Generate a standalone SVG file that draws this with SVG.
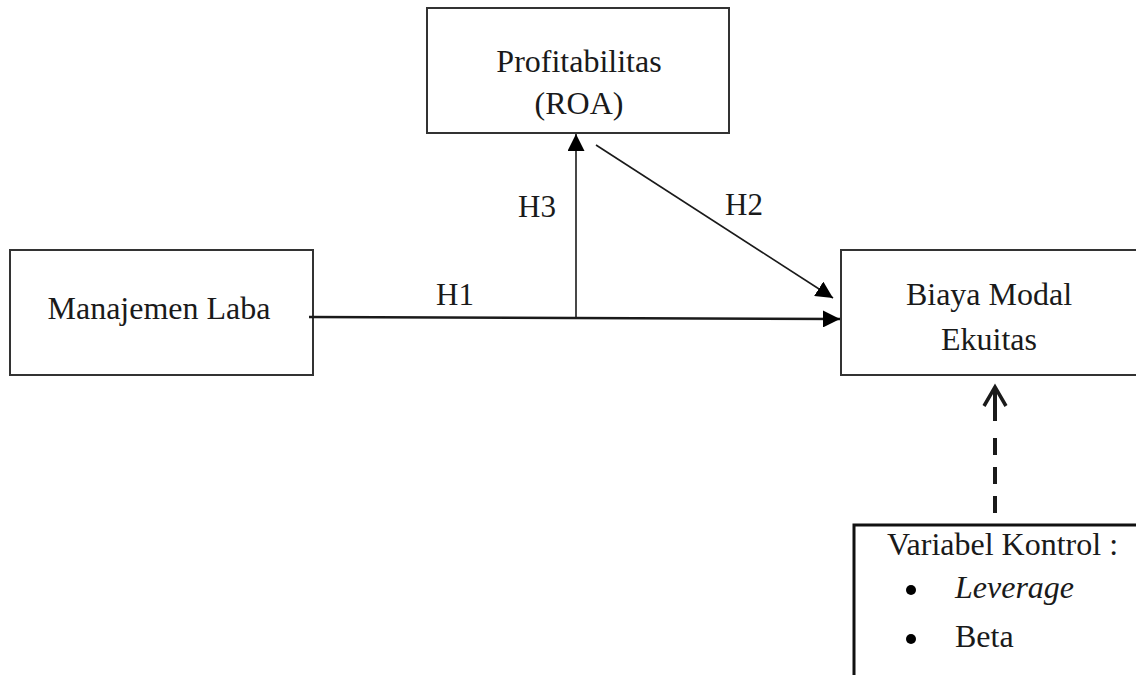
<svg xmlns="http://www.w3.org/2000/svg" width="1136" height="675" viewBox="0 0 1136 675">
<defs>
<style>
.box{fill:#fff;stroke:#333;stroke-width:2}
.t{font-family:"Liberation Serif","Times New Roman",serif;font-size:32px;fill:#1a1a1a}
.lbl{font-family:"Liberation Serif","Times New Roman",serif;font-size:31px;fill:#1a1a1a}
.ln{stroke:#1a1a1a;fill:none}
</style>
<marker id="tri" viewBox="0 0 10 10" refX="10" refY="5" markerWidth="17" markerHeight="17" markerUnits="userSpaceOnUse" orient="auto">
<path d="M0,0 L10,5 L0,10 Z" fill="#000"/>
</marker>
</defs>
<rect width="1136" height="675" fill="#fff"/>
<g id="node-profitabilitas">
<rect class="box" x="427" y="8" width="302" height="125"/>
<text class="t" x="579" y="72" text-anchor="middle">Profitabilitas</text>
<text class="t" x="579" y="114" text-anchor="middle">(ROA)</text>
</g>
<g id="node-manajemen-laba">
<rect class="box" x="10" y="250" width="303" height="125"/>
<text class="t" x="159" y="319" text-anchor="middle">Manajemen Laba</text>
</g>
<g id="node-biaya-modal">
<rect class="box" x="841" y="250" width="298" height="125"/>
<text class="t" x="989" y="305" text-anchor="middle">Biaya Modal</text>
<text class="t" x="989" y="350" text-anchor="middle">Ekuitas</text>
</g>
<g id="node-variabel-kontrol">
<rect x="854" y="525" width="290" height="160" fill="#fff" stroke="#111" stroke-width="3"/>
<text class="t" x="887" y="555">Variabel Kontrol :</text>
<circle cx="911" cy="590" r="5" fill="#000"/>
<text class="t" x="955" y="598" font-size="35" font-style="italic">Leverage</text>
<circle cx="911" cy="639" r="5" fill="#000"/>
<text class="t" x="955" y="647" font-size="35">Beta</text>
</g>
<g id="connectors">
<line class="ln" x1="309" y1="317" x2="840" y2="319" stroke-width="2.5" marker-end="url(#tri)"/>
<line class="ln" x1="576" y1="317" x2="576" y2="134" stroke-width="1.6" marker-end="url(#tri)"/>
<line class="ln" x1="596" y1="145" x2="833" y2="298" stroke-width="1.6" marker-end="url(#tri)"/>
<path class="ln" d="M995,513 V496 M995,484 V467 M995,455 V438 M995,421 V388" stroke-width="4"/>
<path class="ln" d="M984,406 L995,387 L1006,406" stroke-width="3.5"/>
<text class="lbl" x="436" y="305">H1</text>
<text class="lbl" x="518" y="217">H3</text>
<text class="lbl" x="744" y="215" text-anchor="middle">H2</text>
</g>
</svg>
